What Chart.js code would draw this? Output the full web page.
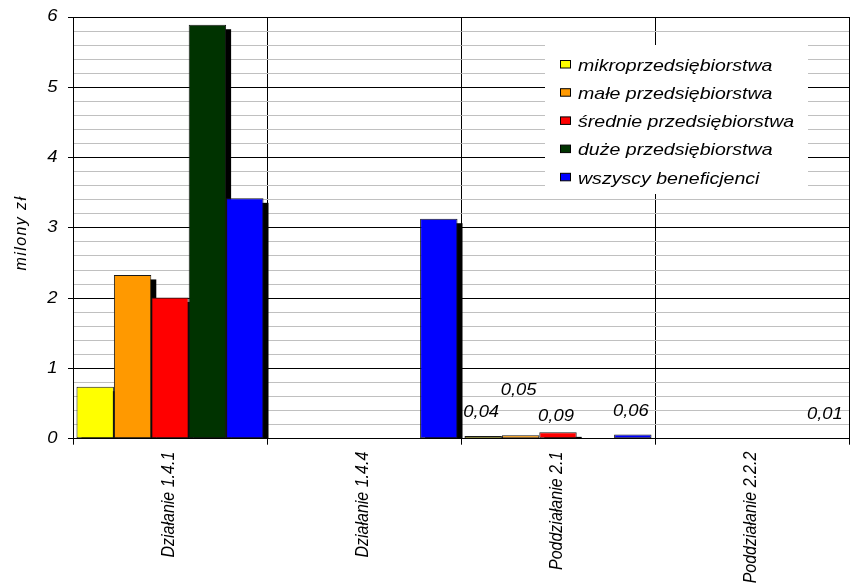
<!DOCTYPE html>
<html>
<head>
<meta charset="utf-8">
<script src="https://cdn.jsdelivr.net/npm/chart.js@4/dist/chart.umd.min.js"></script>
<style>
  html, body { margin: 0; padding: 0; background: #fff; }
  canvas { display: block; }
</style>
</head>
<body>
<canvas id="chart" width="854" height="583"></canvas>
<script>
// Categories (programme measures)
const categories = ['Działanie 1.4.1', 'Działanie 1.4.4', 'Poddziałanie 2.1', 'Poddziałanie 2.2.2'];

// Series names
const seriesNames = ['mikroprzedsiębiorstwa', 'małe przedsiębiorstwa', 'średnie przedsiębiorstwa', 'duże przedsiębiorstwa', 'wszyscy beneficjenci'];

// Values in millions of PLN
const mikro   = [0.74, 0, 0.04, 0];
const male    = [2.33, 0, 0.05, 0];
const srednie = [2.01, 0, 0.09, 0];
const duze    = [5.89, 0, 0, 0];
const wszyscy = [3.42, 3.13, 0.06, 0.01];

// Value axis tick labels
const yTicks = [0, 1, 2, 3, 4, 5, 6];
const yTitle = 'milony zł';

const seriesColors = ['#FFFF00', '#FF9900', '#FF0000', '#003300', '#0000FF'];
const FONT = '"Liberation Sans", Arial, sans-serif';
const STRETCH = 1.15;

function fmt(v) { return v.toFixed(2).replace('.', ','); }

// Text with horizontal stretch
function drawText(ctx, text, x, y, font, align, baseline) {
  ctx.save();
  ctx.translate(x, y);
  ctx.scale(STRETCH, 1);
  ctx.font = font;
  ctx.textAlign = align;
  ctx.textBaseline = baseline;
  ctx.fillStyle = '#000';
  ctx.fillText(text, 0, 0);
  ctx.restore();
}

// Offset black shadow behind every bar
const barShadow = {
  id: 'barShadow',
  beforeDatasetsDraw(chart) {
    const ctx = chart.ctx, a = chart.chartArea;
    ctx.save();
    ctx.beginPath();
    ctx.rect(a.left, a.top, a.right - a.left, a.bottom - a.top);
    ctx.clip();
    ctx.fillStyle = '#000';
    chart.data.datasets.forEach((ds, i) => {
      chart.getDatasetMeta(i).data.forEach((bar, j) => {
        if (!ds.data[j]) return;
        const p = bar.getProps(['x', 'y', 'base', 'width'], true);
        ctx.fillRect(p.x - p.width / 2 + 5, p.y + 4.5, p.width, p.base - p.y);
      });
    });
    ctx.restore();
  }
};

// Value labels on the small bars
const labelNudge = { '1-2': -45, '2-2': -16 };
const valueLabels = {
  id: 'valueLabels',
  afterDatasetsDraw(chart) {
    const ctx = chart.ctx;
    chart.data.datasets.forEach((ds, i) => {
      chart.getDatasetMeta(i).data.forEach((bar, j) => {
        const v = ds.data[j];
        if (!(v > 0 && v < 0.1)) return;
        const dy = labelNudge[i + '-' + j] ?? -23;
        drawText(ctx, fmt(v), bar.x - 2, bar.y + dy, 'italic 16px ' + FONT, 'center', 'middle');
      });
    });
  }
};

// Axis texts, category labels and legend
const decorations = {
  id: 'decorations',
  afterDraw(chart) {
    const ctx = chart.ctx, a = chart.chartArea;
    const xs = chart.scales.x, ys = chart.scales.y;

    // value axis labels
    yTicks.forEach(v => {
      drawText(ctx, String(v), 57.5, ys.getPixelForValue(v), 'italic 16px ' + FONT, 'right', 'middle');
    });

    // value axis title
    ctx.save();
    ctx.translate(22, 233);
    ctx.rotate(-Math.PI / 2);
    ctx.font = 'italic 16px ' + FONT;
    ctx.letterSpacing = '1.4px';
    ctx.textAlign = 'center';
    ctx.textBaseline = 'middle';
    ctx.fillStyle = '#000';
    ctx.fillText(yTitle, 0, 0);
    ctx.restore();

    // category labels, rotated
    categories.forEach((c, i) => {
      ctx.save();
      ctx.translate(xs.getPixelForValue(i) - 1, a.bottom + 13);
      ctx.rotate(-Math.PI / 2);
      ctx.scale(1, STRETCH);
      ctx.font = 'italic 16px ' + FONT;
      ctx.textAlign = 'right';
      ctx.textBaseline = 'middle';
      ctx.fillStyle = '#000';
      ctx.fillText(c, 0, 0);
      ctx.restore();
    });

    // legend
    ctx.save();
    ctx.fillStyle = '#fff';
    ctx.fillRect(545, 45, 263, 149);
    seriesNames.forEach((name, i) => {
      const base = 70.7 + i * 28.2;
      ctx.fillStyle = seriesColors[i];
      ctx.fillRect(560.5, base - 10.2, 10, 7.5);
      ctx.strokeStyle = '#000';
      ctx.lineWidth = 1;
      ctx.strokeRect(560.5, base - 10.2, 10, 7.5);
      drawText(ctx, name, 578, base, 'italic 17px ' + FONT, 'left', 'alphabetic');
    });
    ctx.restore();
  }
};

const seriesValues = [mikro, male, srednie, duze, wszyscy];

new Chart(document.getElementById('chart'), {
  type: 'bar',
  data: {
    labels: categories,
    datasets: seriesNames.map((name, i) => ({
      label: name,
      data: seriesValues[i],
      backgroundColor: seriesColors[i],
      borderColor: '#1a1a1a',
      borderWidth: ctx => (ctx.raw ? 1 : 0),
      borderSkipped: false,
      categoryPercentage: 0.964,
      barPercentage: 1.0
    }))
  },
  options: {
    responsive: false,
    animation: false,
    devicePixelRatio: 1,
    layout: { padding: { left: 0, top: 17, right: 5, bottom: 0 } },
    plugins: {
      legend: { display: false },
      tooltip: { enabled: false }
    },
    scales: {
      x: {
        offset: true,
        grid: {
          offset: true,
          color: '#000',
          lineWidth: 1,
          tickLength: 6,
          tickColor: '#000'
        },
        border: { color: '#000', width: 1 },
        ticks: { display: false },
        afterFit(scale) { scale.height = 144.3; }
      },
      y: {
        min: 0,
        max: 6,
        ticks: { stepSize: 0.2, display: false },
        grid: {
          color: c => (Math.abs(c.tick.value - Math.round(c.tick.value)) < 1e-6 ? '#000' : '#c0c0c0'),
          tickColor: c => (Math.abs(c.tick.value - Math.round(c.tick.value)) < 1e-6 ? '#000' : 'rgba(0,0,0,0)'),
          tickLength: 5,
          lineWidth: 1
        },
        border: { color: '#000', width: 1 },
        afterFit(scale) { scale.width = 73; }
      }
    }
  },
  plugins: [barShadow, valueLabels, decorations]
});
</script>
</body>
</html>
